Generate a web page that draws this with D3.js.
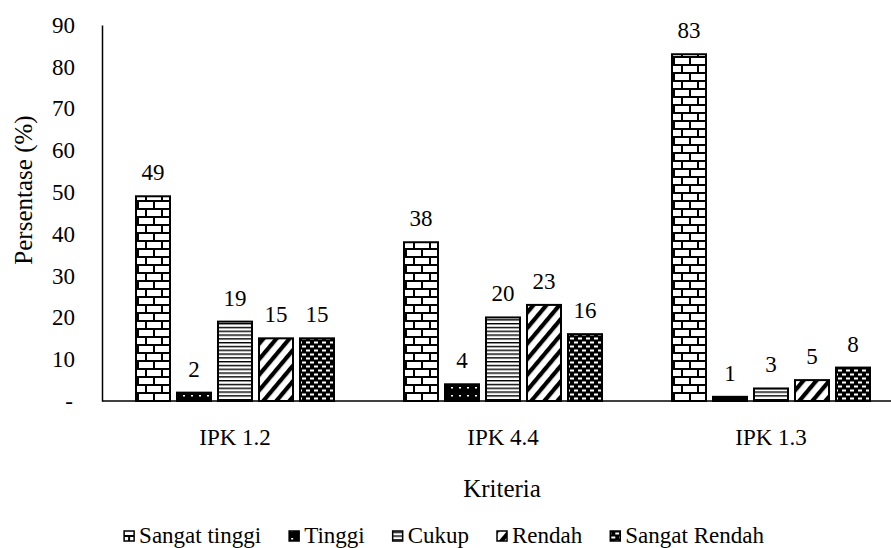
<!DOCTYPE html>
<html>
<head>
<meta charset="utf-8">
<script src="https://cdn.jsdelivr.net/npm/d3@7"></script>
</head>
<body style="margin:0;background:#fff">
<svg id="chart" width="891" height="548"></svg>
<script>
// Kriteria (groups) and series
const categories = ["IPK 1.2", "IPK 4.4", "IPK 1.3"];
const seriesNames = ["Sangat tinggi", "Tinggi", "Cukup", "Rendah", "Sangat Rendah"];
const sangatTinggi = [49, 38, 83];
const tinggi = [2, 4, 1];
const cukup = [19, 20, 3];
const rendah = [15, 23, 5];
const sangatRendah = [15, 16, 8];
const yTicks = [0, 10, 20, 30, 40, 50, 60, 70, 80, 90];

const seriesValues = [sangatTinggi, tinggi, cukup, rendah, sangatRendah];
const patternIds = ["p-brick", "p-dark", "p-hlines", "p-diag", "p-dots"];

const svg = d3.select("#chart");
const margin = { left: 102, top: 25, bottom: 401 };

const x0 = d3.scaleBand().domain(categories).range([101, 905]).padding(0);
const x1 = d3.scaleBand().domain(seriesNames).range([35, 233]).paddingInner(7 / 41).paddingOuter(0);
const y = d3.scaleLinear().domain([0, 90]).range([margin.bottom, margin.top]);

// texts use the page's default serif face
function label(sel, size) {
  return sel.style("font-size", size + "px").style("fill", "#000");
}

// ---- fill patterns ----
const defs = svg.append("defs");

// brick wall
const brick = defs.append("pattern").attr("id", "p-brick").attr("patternUnits", "userSpaceOnUse")
  .attr("width", 16).attr("height", 16).attr("x", 137).attr("y", 0);
brick.append("rect").attr("width", 16).attr("height", 16).attr("fill", "#fff");
brick.append("rect").attr("x", 0).attr("y", 0).attr("width", 16).attr("height", 2).attr("fill", "#000");
brick.append("rect").attr("x", 0).attr("y", 8).attr("width", 16).attr("height", 2).attr("fill", "#000");
brick.append("rect").attr("x", 3).attr("y", 0).attr("width", 2).attr("height", 8).attr("fill", "#000");
brick.append("rect").attr("x", 11).attr("y", 8).attr("width", 2).attr("height", 8).attr("fill", "#000");

// dark with small white flecks
const dark = defs.append("pattern").attr("id", "p-dark").attr("patternUnits", "userSpaceOnUse")
  .attr("width", 8).attr("height", 8);
dark.append("rect").attr("width", 8).attr("height", 8).attr("fill", "#000");
dark.append("rect").attr("x", 2).attr("y", 3).attr("width", 2).attr("height", 1.5).attr("fill", "#fff");

// horizontal lines
const hl = defs.append("pattern").attr("id", "p-hlines").attr("patternUnits", "userSpaceOnUse")
  .attr("width", 8).attr("height", 3.8);
hl.append("rect").attr("width", 8).attr("height", 3.8).attr("fill", "#fff");
hl.append("rect").attr("y", 0).attr("width", 8).attr("height", 1.4).attr("fill", "#000");

// wide diagonal stripes
const dg = defs.append("pattern").attr("id", "p-diag").attr("patternUnits", "userSpaceOnUse")
  .attr("width", 10).attr("height", 10).attr("patternTransform", "rotate(40)");
dg.append("rect").attr("width", 10).attr("height", 10).attr("fill", "#fff");
dg.append("rect").attr("x", 0).attr("width", 4.2).attr("height", 10).attr("fill", "#000");

// dark with white dashes in brick layout
const dots = defs.append("pattern").attr("id", "p-dots").attr("patternUnits", "userSpaceOnUse")
  .attr("width", 8).attr("height", 8);
dots.append("rect").attr("width", 8).attr("height", 8).attr("fill", "#000");
dots.append("rect").attr("x", 1).attr("y", 1.5).attr("width", 4).attr("height", 2).attr("fill", "#fff");
dots.append("rect").attr("x", 5).attr("y", 5.5).attr("width", 4).attr("height", 2).attr("fill", "#fff");
dots.append("rect").attr("x", -3).attr("y", 5.5).attr("width", 4).attr("height", 2).attr("fill", "#fff");

// ---- y axis ----
const yAxis = d3.axisLeft(y).tickValues(yTicks).tickSize(0).tickPadding(0)
  .tickFormat(d => d === 0 ? "-" : d);
const gy = svg.append("g").attr("transform", `translate(${margin.left},0)`).call(yAxis)
  .attr("font-family", null).attr("font-size", null);
gy.select(".domain").attr("stroke", "#000").attr("stroke-width", 1.5);
label(gy.selectAll(".tick text"), 23)
  .attr("x", d => d === 0 ? -33 : -27)
  .attr("text-anchor", d => d === 0 ? "middle" : "end");

// ---- x baseline ----
svg.append("line").attr("x1", margin.left).attr("x2", 891)
  .attr("y1", y(0)).attr("y2", y(0)).attr("stroke", "#000").attr("stroke-width", 1.5);

// ---- bars ----
const groups = svg.append("g").selectAll("g").data(categories).join("g")
  .attr("transform", d => `translate(${x0(d)},0)`);

groups.each(function (cat, ci) {
  const g = d3.select(this);
  seriesNames.forEach((s, si) => {
    const v = seriesValues[si][ci];
    g.append("rect")
      .attr("x", x1(s))
      .attr("y", y(v))
      .attr("width", x1.bandwidth())
      .attr("height", y(0) - y(v))
      .attr("fill", `url(#${patternIds[si]})`)
      .attr("stroke", "#000")
      .attr("stroke-width", 2);
    label(g.append("text"), 23)
      .attr("x", x1(s) + x1.bandwidth() / 2)
      .attr("y", y(v) - 16)
      .attr("text-anchor", "middle")
      .text(v);
  });
});

// ---- category labels ----
label(svg.append("g").selectAll("text").data(categories).join("text"), 23)
  .attr("x", d => x0(d) + x0.bandwidth() / 2)
  .attr("y", 445)
  .attr("text-anchor", "middle")
  .text(d => d);

// ---- axis titles ----
label(svg.append("text"), 25).attr("x", 502).attr("y", 497).attr("text-anchor", "middle").text("Kriteria");
label(svg.append("text"), 25).attr("transform", "translate(32,190) rotate(-90)").attr("text-anchor", "middle")
  .text("Persentase (%)");

// ---- legend ----
const legend = svg.append("g");
let lx = 0;
seriesNames.forEach((s, i) => {
  const item = legend.append("g").attr("transform", `translate(${lx},0)`);
  item.append("rect").attr("x", 0).attr("y", -12).attr("width", 10).attr("height", 10)
    .attr("fill", `url(#${patternIds[i]})`).attr("stroke", "#000").attr("stroke-width", 1.5);
  const t = label(item.append("text"), 23).attr("x", 15).attr("y", 0).text(s);
  const w = t.node().getComputedTextLength();
  lx += 15 + w + 28;
});
const legendWidth = lx - 28;
legend.attr("transform", `translate(${444 - legendWidth / 2},543)`);
</script>
</body>
</html>
